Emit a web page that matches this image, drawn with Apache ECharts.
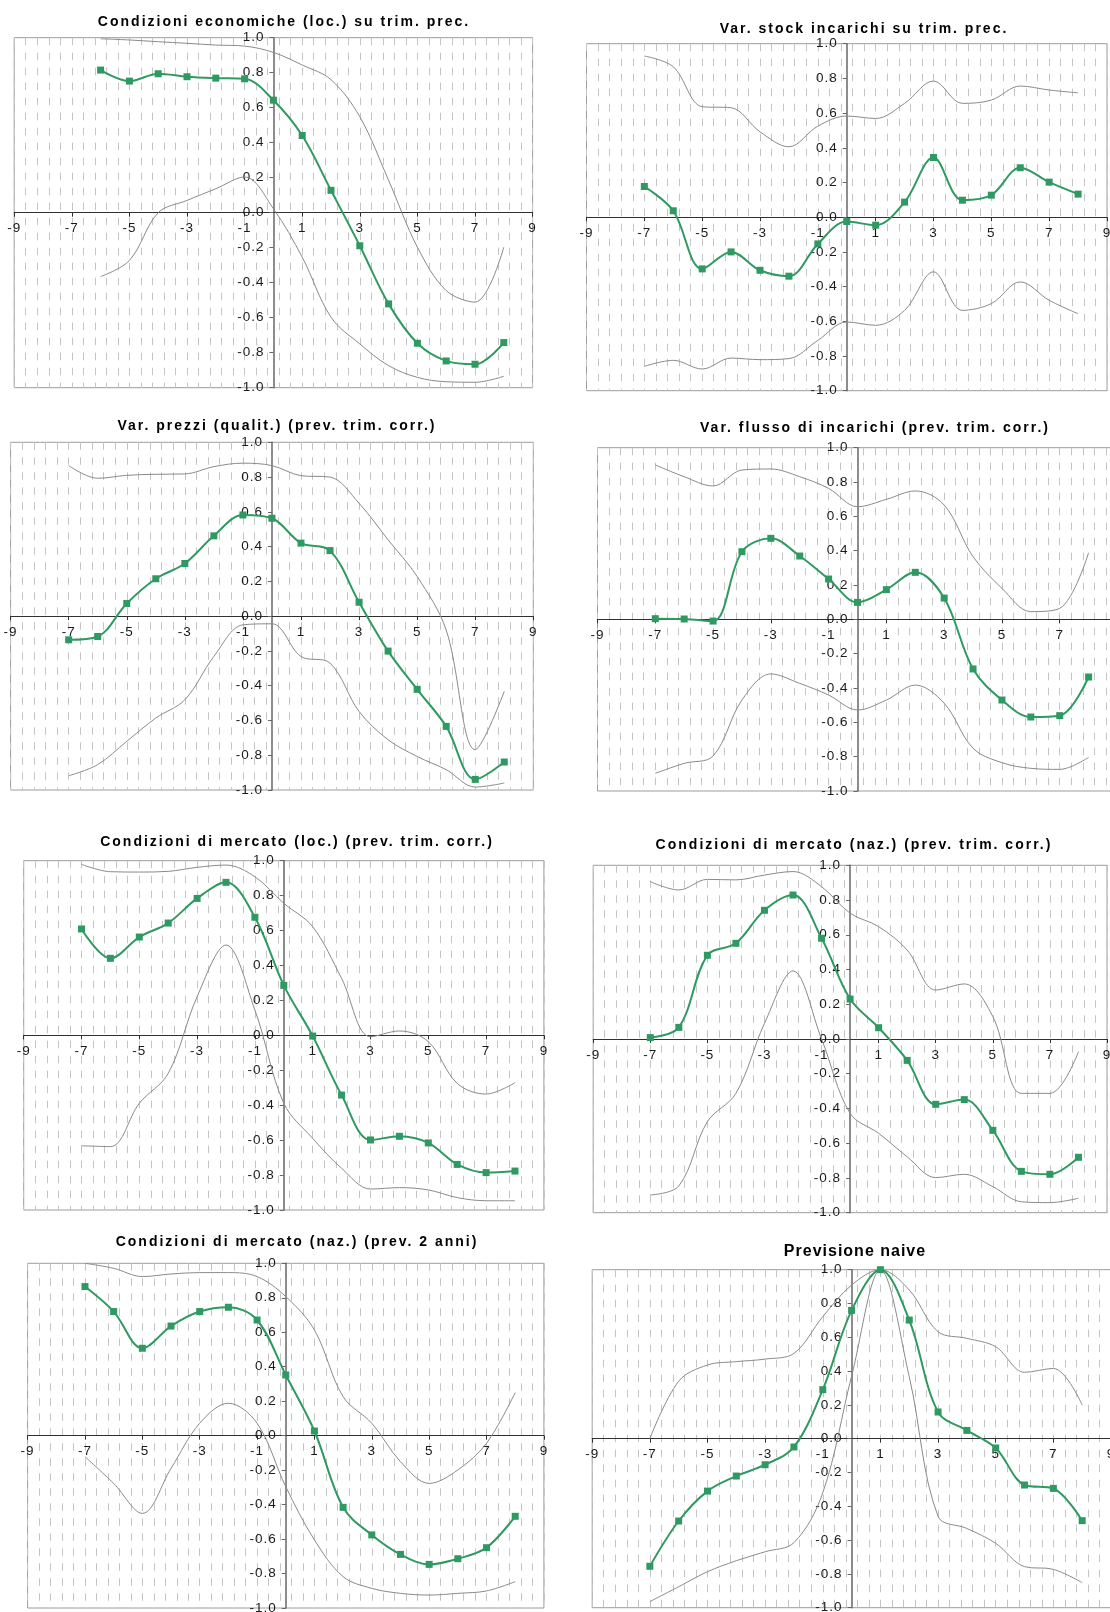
<!DOCTYPE html>
<html>
<head>
<meta charset="utf-8">
<script src="https://cdn.jsdelivr.net/npm/echarts@6/dist/echarts.min.js"></script>
<style>
html,body{margin:0;padding:0;background:#ffffff;}
#chart{width:1110px;height:1612px;}
</style>
</head>
<body>
<div id="chart"></div>
<script>
// ---------- DATA ----------
const titles = [
  'Condizioni economiche (loc.) su trim. prec.',
  'Var. stock incarichi su trim. prec.',
  'Var. prezzi (qualit.) (prev. trim. corr.)',
  'Var. flusso di incarichi (prev. trim. corr.)',
  'Condizioni di mercato (loc.) (prev. trim. corr.)',
  'Condizioni di mercato (naz.) (prev. trim. corr.)',
  'Condizioni di mercato (naz.) (prev. 2 anni)',
  'Previsione naive'
];

const lagsFrom6 = [-6,-5,-4,-3,-2,-1,0,1,2,3,4,5,6,7,8];
const lagsFrom7 = [-7,-6,-5,-4,-3,-2,-1,0,1,2,3,4,5,6,7,8];

const xTickLabels = [-9,-7,-5,-3,-1,1,3,5,7,9];

// Panel 1
const p1Value = [0.815,0.752,0.794,0.777,0.769,0.765,0.643,0.441,0.128,-0.189,-0.521,-0.746,-0.847,-0.866,-0.742];
const p1Upper = [0.994,0.987,0.977,0.968,0.958,0.952,0.916,0.844,0.76,0.548,0.185,-0.197,-0.445,-0.511,-0.197];
const p1Lower = [-0.365,-0.273,0.0,0.07,0.137,0.204,0.023,-0.254,-0.597,-0.75,-0.874,-0.941,-0.966,-0.969,-0.935];
// Panel 2
const p2Value = [0.177,0.037,-0.298,-0.2,-0.306,-0.34,-0.154,-0.025,-0.046,0.087,0.344,0.098,0.127,0.285,0.202,0.133];
const p2Upper = [0.929,0.867,0.637,0.631,0.492,0.406,0.525,0.583,0.569,0.656,0.785,0.656,0.675,0.756,0.733,0.717];
const p2Lower = [-0.86,-0.825,-0.875,-0.812,-0.821,-0.815,-0.71,-0.604,-0.623,-0.537,-0.315,-0.537,-0.498,-0.373,-0.479,-0.556];
// Panel 3
const p3Value = [-0.136,-0.117,0.073,0.215,0.303,0.462,0.582,0.563,0.42,0.377,0.08,-0.201,-0.421,-0.634,-0.939,-0.839];
const p3Upper = [0.866,0.793,0.81,0.816,0.818,0.86,0.88,0.866,0.808,0.8,0.649,0.439,0.228,-0.08,-0.768,-0.433];
const p3Lower = [-0.918,-0.854,-0.72,-0.586,-0.481,-0.232,-0.05,-0.044,-0.232,-0.27,-0.548,-0.711,-0.807,-0.883,-0.983,-0.96];
// Panel 4
const p4Value = [0.004,0.002,-0.01,0.394,0.472,0.369,0.235,0.099,0.173,0.274,0.124,-0.289,-0.47,-0.569,-0.561,-0.336];
const p4Upper = [0.9,0.831,0.777,0.87,0.876,0.831,0.763,0.656,0.699,0.748,0.666,0.365,0.181,0.045,0.064,0.388];
const p4Lower = [-0.897,-0.839,-0.796,-0.47,-0.318,-0.373,-0.441,-0.528,-0.47,-0.383,-0.489,-0.751,-0.835,-0.868,-0.874,-0.804];
// Panel 5
const p5Value = [0.609,0.441,0.563,0.643,0.784,0.876,0.676,0.286,-0.004,-0.342,-0.599,-0.578,-0.616,-0.739,-0.786,-0.777];
const p5Upper = [0.979,0.937,0.935,0.939,0.962,0.975,0.908,0.756,0.622,0.326,-0.008,0.025,-0.036,-0.275,-0.336,-0.271];
const p5Lower = [-0.632,-0.637,-0.389,-0.218,0.221,0.517,0.145,-0.389,-0.59,-0.761,-0.88,-0.872,-0.885,-0.929,-0.947,-0.947];
// Panel 6
const p6Value = [0.008,0.067,0.482,0.551,0.741,0.829,0.58,0.23,0.065,-0.123,-0.376,-0.349,-0.526,-0.762,-0.779,-0.681];
const p6Upper = [0.906,0.858,0.919,0.916,0.944,0.964,0.877,0.724,0.647,0.512,0.282,0.317,0.129,-0.313,-0.313,-0.073];
const p6Lower = [-0.898,-0.846,-0.476,-0.313,0.09,0.392,0.0,-0.428,-0.543,-0.678,-0.798,-0.779,-0.85,-0.937,-0.942,-0.917];
// Panel 7
const p7Value = [0.865,0.72,0.507,0.636,0.72,0.745,0.671,0.352,0.027,-0.416,-0.576,-0.689,-0.747,-0.714,-0.65,-0.468];
const p7Upper = [1.0,0.971,0.923,0.938,0.946,0.946,0.923,0.807,0.613,0.226,0.072,-0.151,-0.277,-0.199,-0.044,0.25];
const p7Lower = [-0.122,-0.277,-0.451,-0.19,0.072,0.188,0.072,-0.296,-0.605,-0.818,-0.886,-0.915,-0.925,-0.915,-0.901,-0.847];
// Panel 8
const p8Value = [-0.755,-0.487,-0.31,-0.221,-0.154,-0.049,0.29,0.759,1.0,0.702,0.158,0.049,-0.055,-0.274,-0.294,-0.485];
const p8Upper = [0.0,0.34,0.436,0.456,0.471,0.505,0.722,0.909,1.0,0.88,0.633,0.594,0.544,0.393,0.416,0.199];
const p8Lower = [-0.964,-0.876,-0.787,-0.722,-0.669,-0.615,-0.32,0.37,1.0,0.367,-0.46,-0.531,-0.619,-0.757,-0.773,-0.852];

const panels = [
  {lags: lagsFrom6, value: p1Value, upper: p1Upper, lower: p1Lower},
  {lags: lagsFrom7, value: p2Value, upper: p2Upper, lower: p2Lower},
  {lags: lagsFrom7, value: p3Value, upper: p3Upper, lower: p3Lower},
  {lags: lagsFrom7, value: p4Value, upper: p4Upper, lower: p4Lower},
  {lags: lagsFrom7, value: p5Value, upper: p5Upper, lower: p5Lower},
  {lags: lagsFrom7, value: p6Value, upper: p6Upper, lower: p6Lower},
  {lags: lagsFrom7, value: p7Value, upper: p7Upper, lower: p7Lower},
  {lags: lagsFrom7, value: p8Value, upper: p8Upper, lower: p8Lower}
];

// ---------- LAYOUT ----------
const layout = [
  {l:14.2,  t:37.7,   w:518.4, h:350,   tx:284, ty:21.8},
  {l:586.5, t:43.7,   w:520.5, h:347,   tx:864, ty:29.5},
  {l:10.6,  t:442.3,  w:522.7, h:347.7, tx:277, ty:425.8},
  {l:597.5, t:447.7,  w:520,   h:343.3, tx:875, ty:428.2},
  {l:23.7,  t:860.7,  w:520.2, h:349.3, tx:297, ty:842.2},
  {l:593.2, t:865.3,  w:513.8, h:347.4, tx:854, ty:845.5},
  {l:27.6,  t:1263.3, w:516.3, h:344.7, tx:297, ty:1241.7},
  {l:592.2, t:1269.7, w:518.8, h:338,   tx:855, ty:1251.3}
];

const titleSpacing = {};
titles.forEach(function (t) { titleSpacing[t] = (t === 'Previsione naive') ? '1px' : '2px'; });
const tickLabelSpacing = '1px';

// letter-spaced text (canvas letterSpacing, falls back silently if unsupported)
(function () {
  const proto = window.CanvasRenderingContext2D && CanvasRenderingContext2D.prototype;
  if (!proto || !('letterSpacing' in proto)) return;
  const origFill = proto.fillText;
  proto.fillText = function (t) {
    let sp = titleSpacing[t];
    if (!sp && /^-?\d/.test(String(t))) sp = tickLabelSpacing;
    if (sp) {
      const prev = this.letterSpacing;
      this.letterSpacing = sp;
      origFill.apply(this, arguments);
      this.letterSpacing = prev;
    } else {
      origFill.apply(this, arguments);
    }
  };
})();

const FONT = 'Liberation Sans, Arial, Helvetica, sans-serif';
const GREEN = '#2e9a61';
const GRAY = '#8a8a8a';

const option = {
  animation: false,
  backgroundColor: '#ffffff',
  textStyle: {fontFamily: FONT},
  title: [],
  grid: [],
  xAxis: [],
  yAxis: [],
  series: []
};

panels.forEach(function (p, k) {
  const L = layout[k];
  const isNaive = titles[k] === 'Previsione naive';
  option.title.push({
    text: titles[k],
    left: L.tx, top: L.ty,
    textAlign: 'center', textVerticalAlign: 'middle',
    padding: 0,
    textStyle: {fontSize: isNaive ? 16 : 14, fontWeight: 'bold', color: '#000', fontFamily: FONT}
  });
  option.grid.push({
    left: L.l, top: L.t, width: L.w, height: L.h,
    show: true, borderColor: '#9c9c9c', borderWidth: 1, backgroundColor: 'transparent',
    containLabel: false, outerBoundsMode: 'none'
  });
  // main x axis (placed through y = 0, the middle of the symmetric y range)
  option.xAxis.push({
    type: 'value', gridIndex: k, min: -9, max: 9, interval: 1,
    position: 'bottom', offset: -L.h / 2,
    axisLine: {show: true, onZero: false, lineStyle: {color: '#303030', width: 1}},
    axisTick: {show: true, length: 4, customValues: xTickLabels, lineStyle: {color: '#303030'}},
    axisLabel: {
      show: true, customValues: xTickLabels, margin: 9, fontSize: 13.5, color: '#1a1a1a', fontFamily: FONT,
      formatter: function (v) { return (Math.abs(Math.round(v)) % 2 === 1) ? String(Math.round(v)) : ''; }
    },
    splitLine: {show: false}
  });
  // helper axis for the dashed vertical grid (every 0.4)
  option.xAxis.push({
    type: 'value', gridIndex: k, min: 0, max: 18, interval: 0.4,
    position: 'top',
    axisLine: {show: false, onZero: false},
    axisTick: {show: false},
    axisLabel: {show: false},
    splitLine: {show: true, lineStyle: {color: '#c4c4c4', width: 1, type: [7.5, 7.5]}}
  });
  // y axis placed through x = 0, the middle of the symmetric x range
  option.yAxis.push({
    type: 'value', gridIndex: k, min: -1, max: 1, interval: 0.2,
    position: 'left', offset: -L.w / 2,
    axisLine: {show: true, onZero: false, lineStyle: {color: '#666666', width: 1.5}},
    axisTick: {show: true, length: 4, lineStyle: {color: '#666666'}},
    axisLabel: {
      show: true, margin: 9, fontSize: 13.5, color: '#1a1a1a', fontFamily: FONT,
      formatter: function (v) { return Math.abs(v) < 1e-9 ? '0.0' : v.toFixed(1); }
    },
    splitLine: {show: false}
  });
  const pairs = function (arr) { return p.lags.map(function (x, i) { return [x, arr[i]]; }); };
  option.series.push({
    type: 'line', xAxisIndex: 2 * k, yAxisIndex: k, data: pairs(p.upper),
    smooth: 0.35, showSymbol: false, symbol: 'none',
    lineStyle: {color: GRAY, width: 1}, z: 3, silent: true
  });
  option.series.push({
    type: 'line', xAxisIndex: 2 * k, yAxisIndex: k, data: pairs(p.lower),
    smooth: 0.35, showSymbol: false, symbol: 'none',
    lineStyle: {color: GRAY, width: 1}, z: 3, silent: true
  });
  option.series.push({
    type: 'line', xAxisIndex: 2 * k, yAxisIndex: k, data: pairs(p.value),
    smooth: 0.35, symbol: 'rect', symbolSize: 7,
    lineStyle: {color: GREEN, width: 2}, itemStyle: {color: GREEN},
    z: 4, silent: true
  });
});

const chart = echarts.init(document.getElementById('chart'), null, {renderer: 'canvas'});
chart.setOption(option);
</script>
</body>
</html>
